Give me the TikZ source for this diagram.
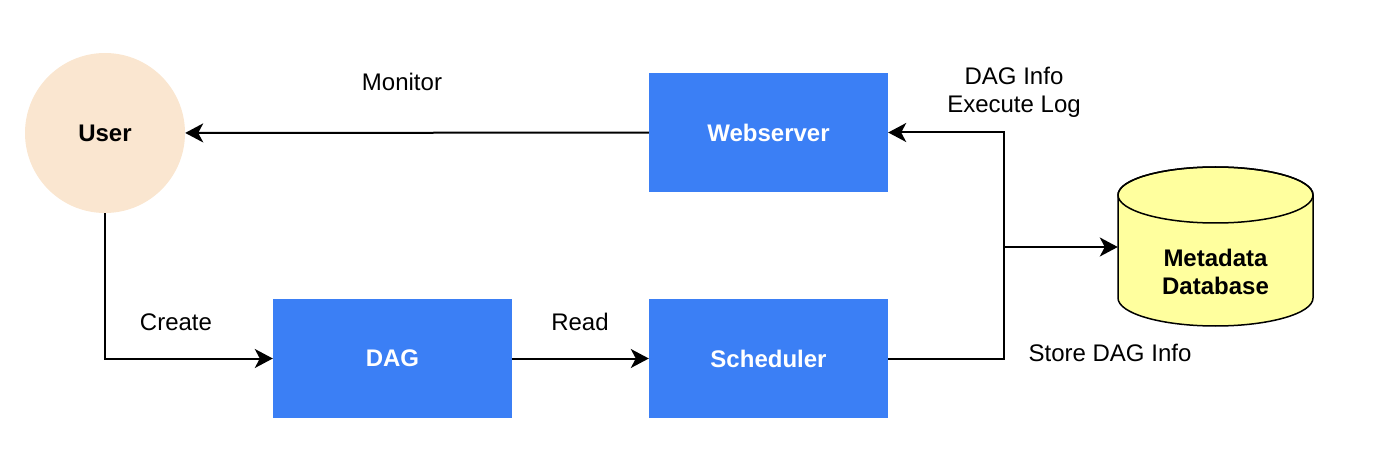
\documentclass[tikz,border=0pt]{standalone}
\usepackage{fontspec}
\setmainfont{Liberation Sans}
\usetikzlibrary{shapes.geometric}
\usetikzlibrary{arrows.meta,positioning}

\definecolor{boxblue}{HTML}{3B7FF5}
\definecolor{userpeach}{HTML}{FAE6D0}
\definecolor{dbyellow}{HTML}{FFFF9E}

\tikzset{
  component/.style={fill=boxblue, minimum width=239pt, minimum height=119pt, text=white, font=\fontsize{24}{28}\selectfont\bfseries},
  flow/.style={line width=2pt, -{Stealth[length=18pt,width=19pt,inset=5pt]}},
  flowlabel/.style={font=\fontsize{24}{28}\selectfont, align=center}
}

\begin{document}
\begin{tikzpicture}[x=1pt, y=-1pt]
 \useasboundingbox (0,0) rectangle (1384,454);

    % draw components
    \node[circle, fill=userpeach, minimum size=160pt, font=\fontsize{24}{28}\selectfont\bfseries] (user) at (105,133) {User};
    \node[component] (webserver) at (768.5,132.5) {Webserver};
    \node[component] (dag) at (392.5,358.5) {DAG};
    \node[component] (scheduler) at (768.5,358.5) {Scheduler};

    % draw database cylinder
    \filldraw[fill=dbyellow, line width=1.5pt] (1118,195) -- (1118,298)
        arc[start angle=180, end angle=0, x radius=97.5, y radius=28] -- (1313,195)
        arc[start angle=0, end angle=-180, x radius=97.5, y radius=28] -- cycle;
    \draw[line width=1.5pt] (1215.5,195) ellipse[x radius=97.5, y radius=28];
    \node[minimum width=195pt, minimum height=159pt, inner sep=0pt] (metadb) at (1215.5,246.5) {};
    \node[font=\fontsize{24}{28}\selectfont\bfseries, align=center] (dblabel) at (1215.5,272) {Metadata\\Database};

    % draw flows
    \coordinate (split) at (1004,247);
    \draw[flow] (webserver) -- (user);
    \draw[flow] (user.south) |- (dag.west);
    \draw[flow] (dag) -- (scheduler);
    \draw[flow] (scheduler.east) -| (split) |- (webserver.east);
    \draw[flow] (split) -- (split -| metadb.west);

    % flow labels
    \node[flowlabel] (monitorlabel) at (402,82) {Monitor};
    \node[flowlabel] (createlabel) at (176,322) {Create};
    \node[flowlabel] (readlabel) at (580,322) {Read};
    \node[flowlabel] (infolabel) at (1014,92) {DAG Info\\Execute Log};
    \node[flowlabel] (storelabel) at (1110,353) {Store DAG Info};
\end{tikzpicture}
\end{document}
